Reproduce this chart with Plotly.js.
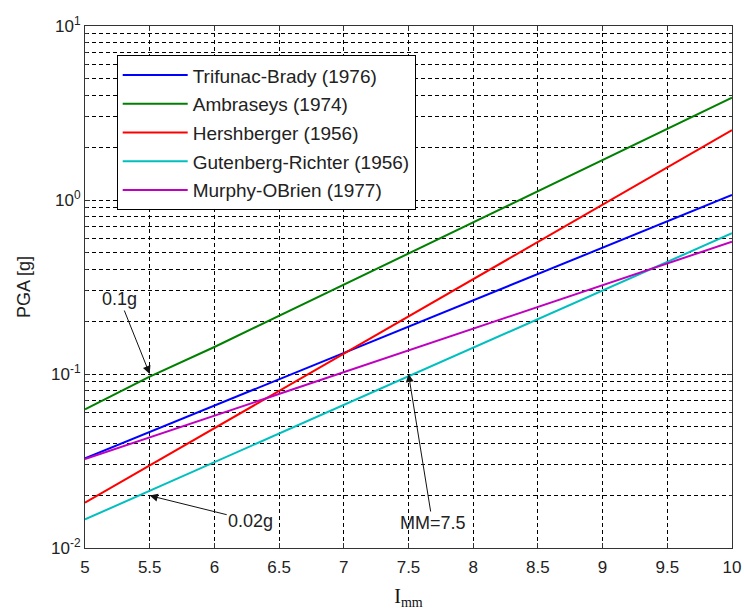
<!DOCTYPE html>
<html>
<head>
<meta charset="utf-8">
<script src="https://cdn.plot.ly/plotly-3.0.1.min.js"></script>
<style>
  html, body { margin: 0; padding: 0; background: #ffffff; }
  #chart { width: 744px; height: 610px; }
</style>
</head>
<body>
<div id="chart"></div>
<script>
// Modified Mercalli intensity (I_mm) against peak ground acceleration (g)
const intensity = [5, 5.5, 6, 6.5, 7, 7.5, 8, 8.5, 9, 9.5, 10];

const trifunacBrady    = [0.0328, 0.0465, 0.0658, 0.0933, 0.132, 0.187, 0.265, 0.376, 0.532, 0.754, 1.068];
const ambraseys        = [0.0627, 0.0966, 0.143, 0.216, 0.326, 0.493, 0.745, 1.12, 1.70, 2.57, 3.87];
const hershberger      = [0.0182, 0.0298, 0.0488, 0.080, 0.131, 0.215, 0.352, 0.576, 0.942, 1.54, 2.52];
const gutenbergRichter = [0.0146, 0.0213, 0.0312, 0.0455, 0.0665, 0.0971, 0.142, 0.207, 0.302, 0.441, 0.644];
const murphyOBrien     = [0.0324, 0.0432, 0.0576, 0.0768, 0.102, 0.137, 0.182, 0.243, 0.324, 0.432, 0.576];

const seriesNames = ['Trifunac-Brady (1976)', 'Ambraseys (1974)', 'Hershberger (1956)',
                     'Gutenberg-Richter (1956)', 'Murphy-OBrien (1977)'];
const seriesColors = ['#0000ff', '#008000', '#ff0000', '#00bfbf', '#bf00bf'];
const seriesValues = [trifunacBrady, ambraseys, hershberger, gutenbergRichter, murphyOBrien];

const xTicks = [5, 5.5, 6, 6.5, 7, 7.5, 8, 8.5, 9, 9.5, 10];
const yTickVals = [0.01, 0.1, 1, 10];
const yTickText = ['10<sup>-2</sup>', '10<sup>-1</sup>', '10<sup>0</sup>', '10<sup>1</sup>'];

const traces = seriesValues.map((vals, i) => ({
  type: 'scatter',
  mode: 'lines',
  x: intensity,
  y: vals,
  name: seriesNames[i],
  legendgroup: 'g' + i,
  line: { color: seriesColors[i], width: 2 }
}));

const fam = 'Arial, "Liberation Sans", sans-serif';
const tickFont = { family: fam, size: 17, color: '#222222' };
const noteFont = { family: fam, size: 18, color: '#222222' };
const gridDash = '4px,3px';

const layout = {
  width: 744,
  height: 610,
  margin: { l: 85, r: 12, t: 26, b: 62 },
  paper_bgcolor: '#ffffff',
  plot_bgcolor: '#ffffff',
  font: tickFont,
  showlegend: true,
  legend: {
    x: 0.049, y: 0.944, xanchor: 'left', yanchor: 'top',
    bgcolor: '#ffffff', bordercolor: '#000000', borderwidth: 1,
    font: { family: fam, size: 19, color: '#222222' },
    tracegroupgap: 1,
    itemwidth: 65
  },
  xaxis: {
    range: [5, 10],
    tickvals: xTicks,
    ticktext: xTicks.map(String),
    ticks: 'inside', ticklen: 5, tickcolor: '#333333',
    ticklabelstandoff: 4,
    showline: true, linecolor: '#333333', linewidth: 1, mirror: 'ticks',
    showgrid: true, gridcolor: '#000000', gridwidth: 1, griddash: gridDash,
    zeroline: false,
    tickfont: tickFont,
    title: { text: 'I<sub>mm</sub>', font: { family: '"Times New Roman", "Liberation Serif", serif', size: 20, color: '#111111' }, standoff: 16 }
  },
  yaxis: {
    type: 'log',
    range: [-2, 1],
    tickvals: yTickVals,
    ticktext: yTickText,
    ticks: 'inside', ticklen: 5, tickcolor: '#333333',
    showline: true, linecolor: '#333333', linewidth: 1, mirror: 'ticks',
    showgrid: true, gridcolor: '#000000', gridwidth: 1, griddash: gridDash,
    minor: { dtick: 'D1', showgrid: true, gridcolor: '#000000', gridwidth: 1, griddash: gridDash,
             ticks: 'inside', ticklen: 3, tickcolor: '#333333' },
    zeroline: false,
    tickfont: tickFont,
    title: { text: 'PGA [g]', font: { family: fam, size: 18, color: '#222222' }, standoff: 15 }
  },
  annotations: [
    { x: 5.5, y: Math.log10(0.1), xref: 'x', yref: 'y', text: '0.1g', showarrow: true,
      ax: -30, ay: -75, arrowhead: 2, arrowsize: 1.6, arrowwidth: 1, arrowcolor: '#111111',
      font: noteFont },
    { x: 5.5, y: Math.log10(0.02), xref: 'x', yref: 'y', text: '0.02g', showarrow: true,
      ax: 101, ay: 25, arrowhead: 2, arrowsize: 1.6, arrowwidth: 1, arrowcolor: '#111111',
      font: noteFont },
    { x: 7.5, y: Math.log10(0.1), xref: 'x', yref: 'y', text: 'MM=7.5', showarrow: true,
      ax: 24, ay: 149, arrowhead: 2, arrowsize: 1.6, arrowwidth: 1, arrowcolor: '#111111',
      font: noteFont }
  ]
};

Plotly.newPlot('chart', traces, layout, { displayModeBar: false, staticPlot: true });
</script>
</body>
</html>
